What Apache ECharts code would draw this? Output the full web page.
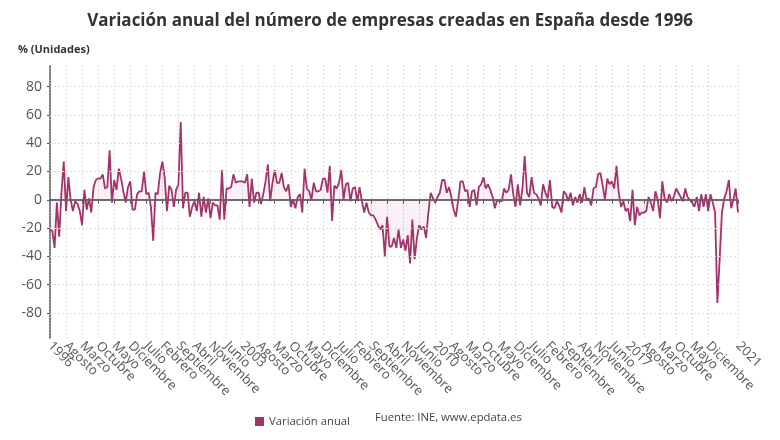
<!DOCTYPE html>
<html>
<head>
<meta charset="utf-8">
<script src="https://cdn.jsdelivr.net/npm/echarts@6/dist/echarts.min.js"></script>
<style>
  html, body { margin: 0; padding: 0; background: #fff; }
  #chart { width: 780px; height: 440px; }
</style>
</head>
<body>
<div id="chart"></div>
<script>
// meses en castellano para las etiquetas del eje
const monthNames = ['Enero', 'Febrero', 'Marzo', 'Abril', 'Mayo', 'Junio', 'Julio',
  'Agosto', 'Septiembre', 'Octubre', 'Noviembre', 'Diciembre']
const startYear = 1996
const endYear = 2021

// variación anual (%) de empresas creadas, ene-1996 .. ene-2021
const variacion = [
  -21, -22, -34, -2, -26, 5, 27, -8, 16, 0, -8, -1,
  -3, -8, -18, 7, -7, 1, -9, 9, 14, 15, 15, 18,
  8, 9, 35, -2, 14, 7, 22, 15, 6, -2, 9, 13,
  -7, -7, 4, 6, 6, 20, 4, 5, -5, -29, 5, 4,
  19, 27, 16, -8, 10, 7, -5, 7, 11, 55, -6, 5,
  5, -12, -5, -1, -8, 5, -12, 2, -9, 1, -13, -2,
  -4, -4, -14, 21, -14, 8, 8, 9, 18, 12, 13, 13,
  13, 12, 18, -5, 15, -2, 5, 5, -3, 4, 13, 25,
  -1, 12, 21, 12, 12, 19, 9, 6, 11, -5, 0, -6,
  2, 4, -9, 22, 8, 6, 0, 12, 6, 6, 7, 15,
  15, 5, 24, -15, 10, 8, 12, 21, 0, 11, 12, -1,
  8, 9, -1, 9, -1, -9, -2, -9, -11, -11, -14, -18,
  -21, -18, -40, -12, -33, -33, -27, -34, -21, -34, -28, -36,
  -25, -45, -14, -42, -27, -18, -21, -19, -27, -9, 5, 1,
  -2, 2, 5, 14, 14, 5, 9, 2, -7, -12, 0, 13,
  13, 6, 7, -5, 6, 7, -4, 9, 11, 16, 8, 11,
  7, 2, -6, 0, -1, -1, 8, 5, 7, 18, 4, -5,
  11, -4, 8, 31, 5, 2, 16, 5, 4, 1, -4, 11,
  5, 1, 14, -5, -6, -1, -4, -9, 6, 4, -1, 5,
  -4, 2, -2, 4, -2, 9, 0, 1, -4, 8, 9, 18,
  19, 10, 0, 15, 11, 13, 8, 24, 5, -5, -1, -8,
  -6, -15, 7, -18, -5, -11, -9, -9, -8, 2, -2, -8,
  6, 0, -13, 13, 1, -2, 4, -1, 2, 8, 5, 2,
  -1, 8, 2, 0, -2, -5, 2, -8, 4, -5, 4, -8,
  4, -2, -9, -73, -42, -9, 1, 6, 14, -6, 0, 8,
  -9
]

const yTicks = [-80, -60, -40, -20, 0, 20, 40, 60, 80]

const categories = []
for (let y = startYear; y <= endYear; y++) {
  for (let m = 0; m < 12; m++) {
    if (categories.length < variacion.length) categories.push(y + '-' + m)
  }
}
const lastIdx = categories.length - 1

// una etiqueta cada 7 meses, y la última
const showLabel = (idx) => idx === lastIdx || (idx % 7 === 0 && lastIdx - idx > 6)

const labelText = (value) => {
  const [y, m] = value.split('-').map(Number)
  return m === 0 ? String(y) : monthNames[m]
}

const lineColor = '#a3336b'
const font = '"Open Sans", "Noto Sans", sans-serif'

const labelStyle = {
  rotate: -45,
  formatter: labelText,
  fontSize: 13,
  color: '#555',
  margin: 6
}

const chart = echarts.init(document.getElementById('chart'))
chart.setOption({
  animation: false,
  textStyle: { fontFamily: font },
  title: {
    text: 'Variación anual del número de empresas creadas en España desde 1996',
    left: 'center',
    top: 8,
    textStyle: { fontSize: 17, fontWeight: 'bold', color: '#333', fontFamily: font }
  },
  legend: {
    data: ['Variación anual'],
    left: 250,
    top: 411,
    icon: 'rect',
    itemWidth: 9,
    itemHeight: 9,
    itemGap: 5,
    textStyle: { fontSize: 11.3, color: '#444', fontFamily: font }
  },
  graphic: [
    {
      type: 'text',
      left: 18,
      top: 44,
      style: { text: '% (Unidades)', fontSize: 11, fontWeight: 'bold', fill: '#333', fontFamily: font }
    },
    {
      type: 'text',
      left: 375,
      top: 412,
      style: { text: 'Fuente: INE, www.epdata.es', fontSize: 11.3, fill: '#444', fontFamily: font }
    }
  ],
  grid: { left: 50, right: 42, top: 65, bottom: 102, containLabel: false },
  xAxis: [
    {
      type: 'category',
      data: categories,
      boundaryGap: false,
      axisLine: { lineStyle: { color: '#555', width: 1.5 } },
      axisTick: { show: true, interval: showLabel, length: 4, lineStyle: { color: '#555' } },
      axisLabel: Object.assign({ interval: showLabel, showMinLabel: false, showMaxLabel: true }, labelStyle),
      splitLine: {
        show: true,
        interval: showLabel,
        lineStyle: { color: '#ddd', type: [2, 2] }
      }
    },
    {
      // solo para la primera etiqueta (1996), que el eje principal oculta por solaparse
      type: 'category',
      data: categories,
      boundaryGap: false,
      position: 'bottom',
      offset: 0,
      axisLine: { show: false },
      axisTick: { show: false },
      splitLine: { show: false },
      axisLabel: Object.assign({ interval: (idx) => idx === 0, showMinLabel: true, showMaxLabel: false }, labelStyle)
    }
  ],
  yAxis: {
    type: 'value',
    min: -97.7,
    max: 95.3,
    axisLine: { show: true, lineStyle: { color: '#555', width: 1.5, type: [2, 1] } },
    axisTick: { show: true, customValues: yTicks, length: 3, lineStyle: { color: '#555' } },
    axisLabel: { customValues: yTicks, fontSize: 14, color: '#555', margin: 8 },
    splitLine: { show: false }
  },
  series: [
    {
      // líneas horizontales de la rejilla en cada marca del eje
      name: 'rejilla',
      type: 'line',
      data: [],
      z: 1,
      silent: true,
      markLine: {
        silent: true,
        symbol: 'none',
        label: { show: false },
        lineStyle: { color: '#ddd', width: 1, type: [2, 2] },
        data: yTicks.filter(v => v !== 0).map(v => ({ yAxis: v }))
      }
    },
    {
      name: 'Variación anual',
      type: 'line',
      data: variacion,
      z: 3,
      symbol: 'none',
      lineStyle: { color: lineColor, width: 1.8 },
      itemStyle: { color: lineColor },
      areaStyle: { color: lineColor, opacity: 0.07 },
      markLine: {
        silent: true,
        symbol: 'none',
        label: { show: false },
        lineStyle: { color: '#666', width: 1.5, type: 'solid' },
        data: [{ yAxis: 0 }]
      }
    }
  ]
})
</script>
</body>
</html>
